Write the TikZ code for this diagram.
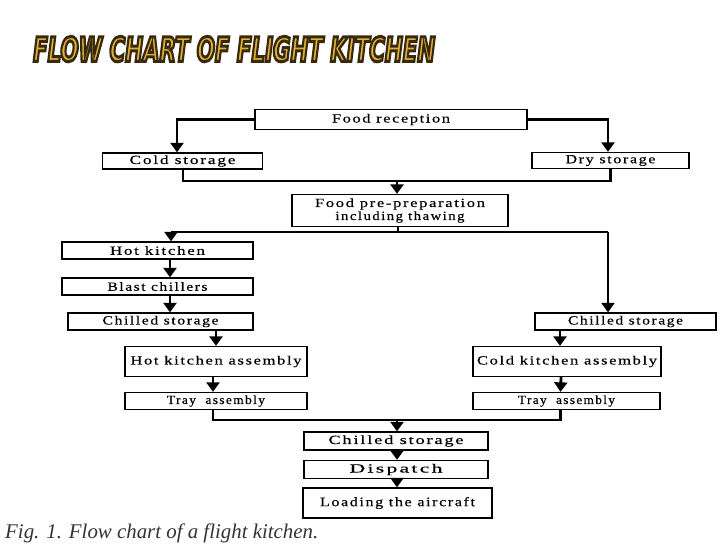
\documentclass[tikz,border=0pt]{standalone}
\usepackage{fontspec}
\usepackage{graphicx}
\usetikzlibrary{arrows.meta}
\setmainfont{Liberation Serif}
\newfontfamily\boxfont[LetterSpace=10,FakeBold=0.3]{Liberation Serif}
\newfontfamily\titlefont{DejaVu Sans Condensed Bold Oblique}
\definecolor{gold}{HTML}{E0B038}
\newcommand{\tw}[2]{\resizebox{#1pt}{\height}{#2}}
\newcommand{\outl}[1]{\special{pdf:literal direct 2 Tr 0.9 w 0.22 0.16 0.05 RG}#1\special{pdf:literal direct 0 Tr}}
\tikzset{
  box/.style={draw=black, line width=1.3pt, fill=white, inner sep=0pt, align=center,
    font=\boxfont\fontsize{12.5}{13}\selectfont},
  conn/.style={line width=2.8pt, line join=miter},
  arr/.style={conn, -{Triangle[width=13pt,length=9.5pt]}},
}
\begin{document}
\begin{tikzpicture}[x=1pt,y=-1pt]
\useasboundingbox (0,0) rectangle (728,546);
% title
\node[anchor=south west, inner sep=0pt, text=gold] (title) at (33,62)
  {\resizebox{402pt}{25pt}{\titlefont\outl{FLOW CHART OF FLIGHT KITCHEN}}};

% boxes
\node[box, minimum width=272pt, minimum height=20pt] (fr) at (391,119.5) {\tw{118}{Food reception}};
\node[box, minimum width=160pt, minimum height=16pt] (cs) at (182.5,161) {\tw{106}{Cold storage}};
\node[box, minimum width=157pt, minimum height=16pt] (ds) at (610.5,160.5) {\tw{90}{Dry storage}};
\node[box, minimum width=216pt, minimum height=32pt] (pp) at (400,210.5) {\tw{170}{Food pre-preparation}\\ \tw{129}{including thawing}};
\node[box, minimum width=191pt, minimum height=17pt] (hk) at (157.5,250.5) {\tw{95}{Hot kitchen}};
\node[box, minimum width=191pt, minimum height=17pt] (bc) at (157.5,286.5) {\tw{100}{Blast chillers}};
\node[box, minimum width=185pt, minimum height=17pt] (csl) at (160.5,321.5) {\tw{116}{Chilled storage}};
\node[box, minimum width=181pt, minimum height=17pt] (csr) at (625.5,321.5) {\tw{115}{Chilled storage}};
\node[box, minimum width=182pt, minimum height=30pt] (hka) at (216,361.5) {\tw{171}{Hot kitchen assembly}};
\node[box, minimum width=188pt, minimum height=30pt] (cka) at (567,361.5) {\tw{180}{Cold kitchen assembly}};
\node[box, minimum width=182pt, minimum height=17pt] (tal) at (216,401) {\tw{98}{Tray\ \ assembly}};
\node[box, minimum width=187pt, minimum height=17pt] (tar) at (566.5,401) {\tw{97}{Tray\ \ assembly}};
\node[box, minimum width=184pt, minimum height=18pt] (csb) at (396,441) {\tw{135}{Chilled storage}};
\node[box, minimum width=184pt, minimum height=18pt] (dis) at (396,469.5) {\tw{93}{Dispatch}};
\node[box, minimum width=189pt, minimum height=30pt, font=\boxfont\fontsize{13}{13.5}\selectfont] (load) at (397.5,503) {\tw{155}{Loading the aircraft}};

% caption
\node[anchor=south west, inner sep=0pt, text=black!80] (cap) at (5,543)
  {\resizebox{313pt}{!}{\itshape Fig. 1. Flow chart of a flight kitchen.}};

% connectors
\coordinate (b1) at (0,181);
\coordinate (b2) at (0,232);
\coordinate (b3) at (0,420);
\draw[arr] (fr.west) -| ([xshift=-5.5pt]cs.north);
\draw[arr] (fr.east) -| ([xshift=-2.5pt]ds.north);
\draw[conn] ([xshift=0.5pt]cs.south) |- (b1 -| ds.south) -- (ds.south);
\draw[arr] ([xshift=-3pt]b1 -| pp.north) -- ([xshift=-3pt]pp.north);
\draw[conn] ([xshift=-2pt]pp.south) -- ([xshift=-2pt]b2 -| pp.south);
\draw[conn] ([xshift=13.5pt]hk.north |- b2) -- ([xshift=-17.5pt]csr.north |- b2);
\draw[arr] ([xshift=13.5pt]hk.north |- b2) -- ([xshift=13.5pt]hk.north);
\draw[arr] ([xshift=-17.5pt]csr.north |- b2) -- ([xshift=-17.5pt]csr.north);
\draw[arr] ([xshift=12.5pt]hk.south) -- ([xshift=12.5pt]bc.north);
\draw[arr] ([xshift=12.5pt]bc.south) -- ([xshift=12.5pt]bc.south |- csl.north);
\draw[arr] ([xshift=0pt]hka.north |- csl.south) -- ([xshift=0pt]hka.north);
\draw[arr] ([xshift=-7pt]cka.north |- csr.south) -- ([xshift=-7pt]cka.north);
\draw[arr] ([xshift=-3pt]hka.south) -- ([xshift=-3pt]tal.north);
\draw[arr] ([xshift=-6pt]cka.south) -- ([xshift=-6pt]tar.north);
\draw[conn] ([xshift=-3pt]tal.south) |- ([xshift=-6pt]b3 -| tar.south) -- ([xshift=-6pt]tar.south);
\draw[arr] ([xshift=1pt]b3 -| csb.north) -- ([xshift=1pt]csb.north);
\draw[arr] ([xshift=1pt]csb.south) -- ([xshift=1pt]dis.north);
\draw[arr] ([xshift=1pt]dis.south) -- ([xshift=-0.5pt]load.north);
\end{tikzpicture}
\end{document}
